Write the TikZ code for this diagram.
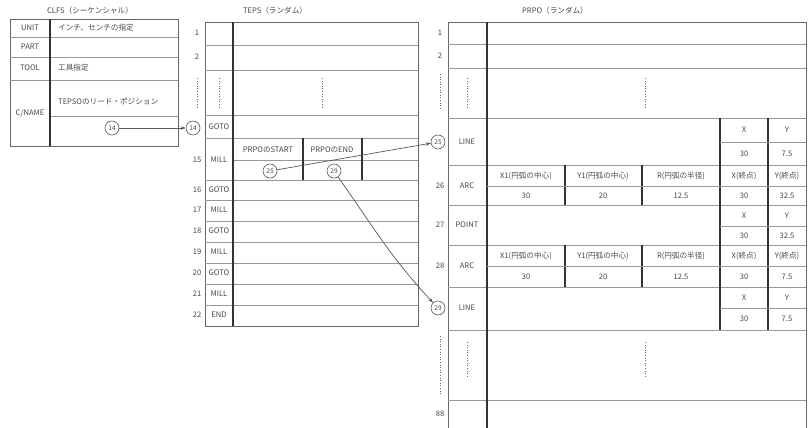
\documentclass[tikz,border=0pt]{standalone}
\usepackage{fontspec}
\setmainfont{Noto Sans CJK JP}
\usetikzlibrary{arrows.meta}
\tikzset{
 hl/.style={draw=black!40, line width=0.6pt},
 vl/.style={draw=black!80, line width=1.1pt},
 bx/.style={draw=black!60, line width=0.8pt},
 tx/.style={font=\fontsize{7.6}{8}\selectfont, text=black!72, inner sep=0pt},
 txl/.style={tx, anchor=west},
 circ/.style={circle, draw=black!65, line width=0.6pt, minimum size=14pt, inner sep=0pt, font=\fontsize{6.5}{7}\selectfont, text=black!72, fill=white},
 conn/.style={draw=black!65, line width=0.7pt, -{Stealth[length=5pt,width=3.5pt]}},
 dotsl/.style={draw=black!60, line width=0.7pt, dash pattern=on 0.8pt off 1.8pt},
 ttl/.style={font=\fontsize{7.6}{8}\selectfont, text=black!72}
}
\begin{document}
\begin{tikzpicture}[x=1pt,y=-1pt]
\useasboundingbox[fill=white] (0,0) rectangle (809,428);

% ---------------- CLFS ----------------
\node[ttl] (clfsT) at (90,11) {CLFS（シーケンシャル）};
\draw[bx] (10,19) rectangle (178,146);
\draw[hl] (10,37) -- (178,37) (10,57) -- (178,57) (10,80) -- (178,80) (50,116) -- (178,116);
\draw[vl] (50,19) -- (50,146);
\node[tx] (cUnit) at (30,28) {UNIT};
\node[txl] (cUnitV) at (58,28) {インチ、センチの指定};
\node[tx] (cPart) at (30,47) {PART};
\node[tx] (cTool) at (30,68) {TOOL};
\node[txl] (cToolV) at (58,68) {工具指定};
\node[tx] (cName) at (30,113) {C/NAME};
\node[txl] (cNameV) at (58,101) {TEPSOのリード・ポジション};
\node[circ] (ca14) at (112,128) {14};

% ---------------- TEPS ----------------
\node[ttl] (tepsT) at (275,11) {TEPS（ランダム）};
\draw[bx] (205,22) rectangle (418,326);
\foreach \yy in {45,70,115,138,180,200,221,242,263,284,305}
  \draw[hl] (205,\yy) -- (418,\yy);
\draw[hl] (233,160) -- (418,160);
\draw[vl] (233,22) -- (233,326);
\draw[vl] (303,138) -- (303,180) (362,138) -- (362,180);
\node[tx] (tn1) at (197,33) {1};
\node[tx] (tn2) at (197,57) {2};
\draw[dotsl] (197,78) -- (197,108);
\draw[dotsl] (219,78) -- (219,108);
\draw[dotsl] (322,78) -- (322,108);
\node[circ] (tb14) at (193,128) {14};
\node[tx] (tl14) at (219,127) {GOTO};
\node[tx] (tn15) at (197,160) {15};
\node[tx] (tl15) at (219,160) {MILL};
\node[tx] (tn16) at (197,190) {16};
\node[tx] (tl16) at (219,190) {GOTO};
\node[tx] (tn17) at (197,210) {17};
\node[tx] (tl17) at (219,210) {MILL};
\node[tx] (tn18) at (197,231) {18};
\node[tx] (tl18) at (219,231) {GOTO};
\node[tx] (tn19) at (197,252) {19};
\node[tx] (tl19) at (219,252) {MILL};
\node[tx] (tn20) at (197,273) {20};
\node[tx] (tl20) at (219,273) {GOTO};
\node[tx] (tn21) at (197,294) {21};
\node[tx] (tl21) at (219,294) {MILL};
\node[tx] (tn22) at (197,315) {22};
\node[tx] (tl22) at (219,315) {END};
\node[tx] (tStart) at (268,150) {PRPOのSTART};
\node[tx] (tEnd) at (332,150) {PRPOのEND};
\node[circ] (t25) at (270,171) {25};
\node[circ] (t29) at (334,171) {29};

% ---------------- PRPO ----------------
\node[ttl] (prpoT) at (555,11) {PRPO（ランダム）};
\draw[bx] (448,428) -- (448,22) -- (806,22) -- (806,428);
\foreach \yy in {44,68,118,165,205,245,287,330,400}
  \draw[hl] (448,\yy) -- (806,\yy);
\draw[vl] (487,22) -- (487,428);
\draw[vl] (720,118) -- (720,330) (768,118) -- (768,330);
\draw[vl] (565,165) -- (565,205) (642,165) -- (642,205) (565,245) -- (565,287) (642,245) -- (642,287);
\draw[hl] (720,142) -- (806,142) (487,186) -- (806,186) (720,226) -- (806,226) (487,266) -- (806,266) (720,308) -- (806,308);
\node[tx] (pn1) at (440,33) {1};
\node[tx] (pn2) at (440,56) {2};
\draw[dotsl] (440,74) -- (440,110);
\draw[dotsl] (467,78) -- (467,108);
\draw[dotsl] (645,78) -- (645,108);
\node[circ] (p25) at (438,142) {25};
\node[tx] (pl25) at (467,142) {LINE};
\node[tx] (pn26) at (440,186) {26};
\node[tx] (pl26) at (467,186) {ARC};
\node[tx] (pn27) at (440,225) {27};
\node[tx] (pl27) at (467,225) {POINT};
\node[tx] (pn28) at (440,266) {28};
\node[tx] (pl28) at (467,266) {ARC};
\node[circ] (p29) at (438,308) {29};
\node[tx] (pl29) at (467,308) {LINE};
\draw[dotsl] (440,336) -- (440,394);
\draw[dotsl] (467,342) -- (467,378);
\draw[dotsl] (645,342) -- (645,378);
\node[tx] (pn88) at (440,414) {88};
% row 25
\node[tx] (r25x) at (744,130) {X};
\node[tx] (r25y) at (787,130) {Y};
\node[tx] (r25xv) at (744,154) {30};
\node[tx] (r25yv) at (787,154) {7.5};
% row 26
\node[tx] (r26a) at (526,176) {X1(円弧の中心)};
\node[tx] (r26b) at (603,176) {Y1(円弧の中心)};
\node[tx] (r26c) at (681,176) {R(円弧の半径)};
\node[tx] (r26d) at (744,176) {X(終点)};
\node[tx] (r26e) at (787,176) {Y(終点)};
\node[tx] (r26av) at (526,196) {30};
\node[tx] (r26bv) at (603,196) {20};
\node[tx] (r26cv) at (681,196) {12.5};
\node[tx] (r26dv) at (744,196) {30};
\node[tx] (r26ev) at (787,196) {32.5};
% row 27
\node[tx] (r27x) at (744,216) {X};
\node[tx] (r27y) at (787,216) {Y};
\node[tx] (r27xv) at (744,236) {30};
\node[tx] (r27yv) at (787,236) {32.5};
% row 28
\node[tx] (r28a) at (526,256) {X1(円弧の中心)};
\node[tx] (r28b) at (603,256) {Y1(円弧の中心)};
\node[tx] (r28c) at (681,256) {R(円弧の半径)};
\node[tx] (r28d) at (744,256) {X(終点)};
\node[tx] (r28e) at (787,256) {Y(終点)};
\node[tx] (r28av) at (526,277) {30};
\node[tx] (r28bv) at (603,277) {20};
\node[tx] (r28cv) at (681,277) {12.5};
\node[tx] (r28dv) at (744,277) {30};
\node[tx] (r28ev) at (787,277) {7.5};
% row 29
\node[tx] (r29x) at (744,298) {X};
\node[tx] (r29y) at (787,298) {Y};
\node[tx] (r29xv) at (744,319) {30};
\node[tx] (r29yv) at (787,319) {7.5};

% ---------------- connectors ----------------
\draw[conn] (ca14) -- (tb14);
\draw[conn] (t25) -- (p25);
\draw[conn] (t29) to[out=-55,in=133] (p29);
\end{tikzpicture}
\end{document}
